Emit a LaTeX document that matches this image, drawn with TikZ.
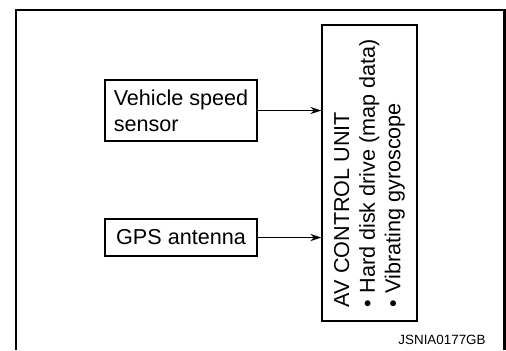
\documentclass[tikz,border=0pt]{standalone}
\usepackage{fontspec}
\setmainfont{Liberation Sans}
\usepackage{tikz}
\usetikzlibrary{arrows.meta,positioning}

\begin{document}
\begin{tikzpicture}[x=0.5pt,y=-0.5pt,>=Stealth]
\tikzset{
  unit/.style={draw,line width=0.7pt,font=\fontsize{10.8}{12.8}\selectfont,inner sep=0pt},
  sig/.style ={line width=0.65pt,-{Stealth[length=5.5pt,width=3.6pt]}}
}
\useasboundingbox (0,0) rectangle (506,350);
\draw[line width=1.1pt] (16,350) -- (16,10) -- (504.5,10) -- (504.5,350);

\node[unit,rotate=90,align=left,minimum width=148pt,minimum height=47.5pt] (avcu) at (369.5,173)
  {AV CONTROL UNIT\\
   \textbullet\ Hard disk drive (map data)\\
   \textbullet\ Vibrating gyroscope};
\node[unit,align=left,minimum width=76pt,minimum height=30.5pt] (vss) at (181,110.5)
  {Vehicle speed\\sensor};
\node[unit,minimum width=76pt,minimum height=18.5pt] (gps) at (181,237.5) {GPS antenna};

\draw[sig] (vss.east) -- (vss.east -| avcu.north);
\draw[sig] (gps.east) -- (gps.east -| avcu.north);

\node[font=\fontsize{6.7}{8}\selectfont] (ref) at (442,340) {JSNIA0177GB};
\end{tikzpicture}
\end{document}
